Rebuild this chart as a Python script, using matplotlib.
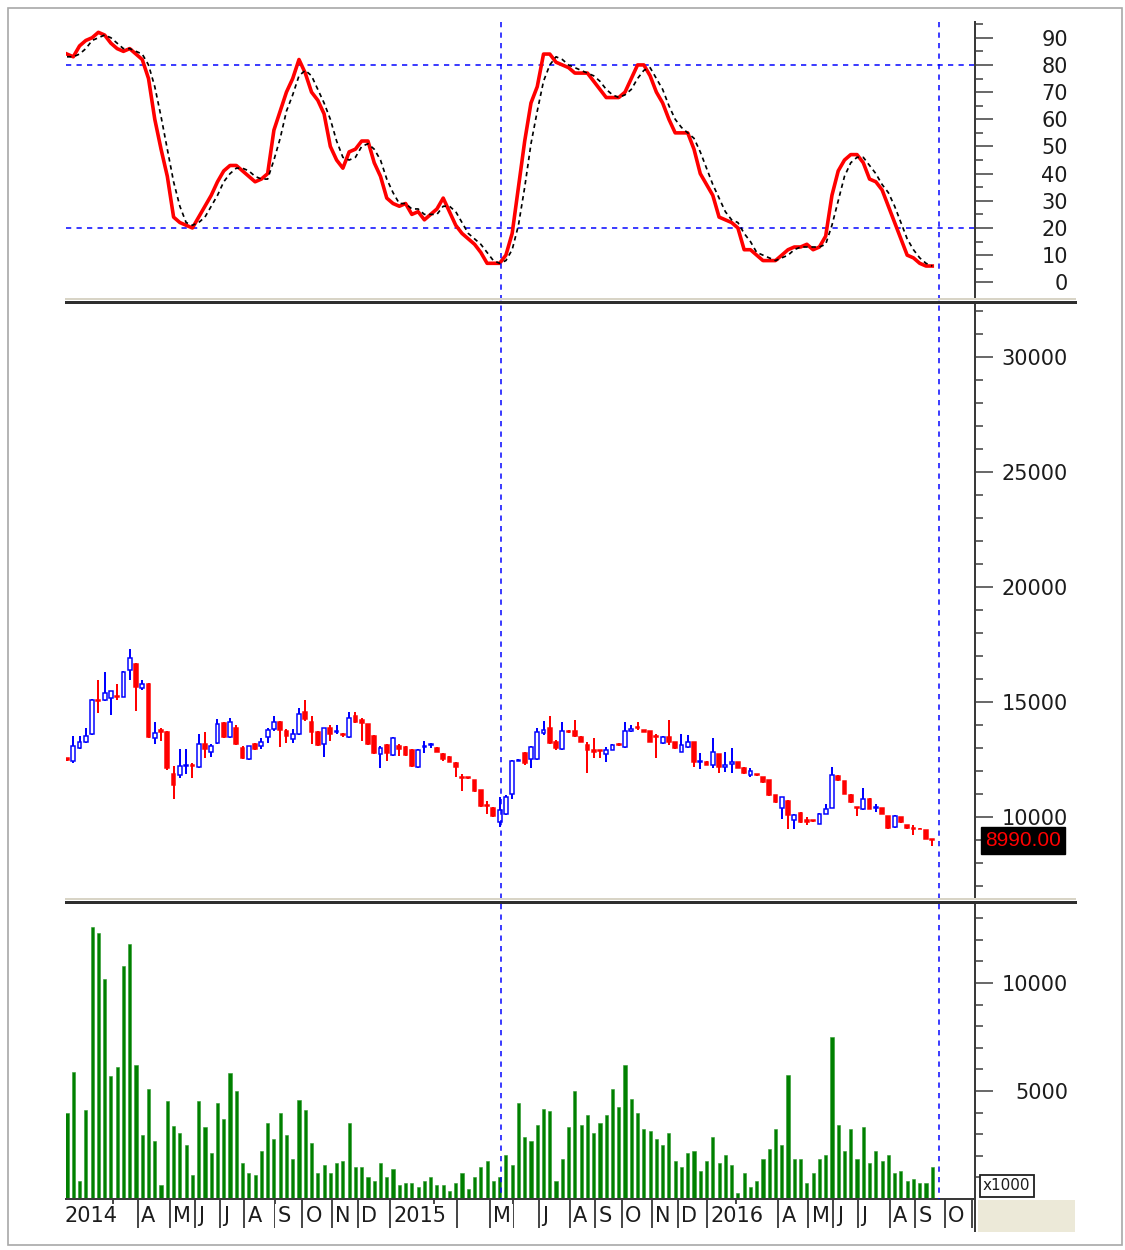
import matplotlib
matplotlib.use("Agg")
import matplotlib.pyplot as plt
from matplotlib.lines import Line2D
from matplotlib.patches import Rectangle
from matplotlib.transforms import blended_transform_factory as blend

# ---------------- data (weekly bars) ----------------
opens = [12550, 12436, 12987, 13262, 13595, 15100, 15073, 15189, 15250, 15218,
         16377, 16667, 15595, 15798, 13421, 13800, 13711, 11856, 11827, 12200,
         12280, 12175, 13160, 12842, 13233, 14102, 13479, 13885, 13015, 12537,
         13160, 13088, 13479, 13812, 14146, 13740, 13378, 13595, 14580, 14146,
         13711, 13160, 13856, 13700, 13620, 13479, 14392, 14204, 14030, 13523,
         12726, 13131, 12697, 13088, 13044, 12900, 12175, 13050, 13120, 13015,
         12755, 12610, 12363, 11740, 11720, 11595, 11161, 10520, 10407, 9780,
         10145, 11020, 12450, 12769, 12521, 12521, 13644, 13863, 13251, 12959,
         13750, 13746, 13498, 13134, 12915, 12900, 12726, 12915, 13180, 13061,
         13746, 13900, 13790, 13746, 13520, 13207, 13498, 13251, 12842, 13061,
         13251, 12376, 12405, 12259, 12726, 12172, 12288, 12376, 12142, 11822,
         11870, 11749, 11603, 10947, 10393, 10684, 9853, 10189, 9853, 9860,
         9707, 10145, 10393, 11792, 11559, 10976, 10420, 10334, 10801, 10370,
         10393, 10043, 9562, 9999, 9635, 9510, 9500, 9416, 9051]
highs = [12560, 13523, 13523, 13856, 15117, 15943, 16319, 15500, 15769, 16350,
         17290, 16700, 15943, 15820, 14146, 13856, 13750, 12218, 12943, 12943,
         12363, 13595, 13711, 13160, 14247, 14130, 14291, 14001, 13088, 13100,
         13200, 13421, 13885, 14392, 14160, 13812, 13812, 14754, 15088, 14392,
         13740, 13885, 14001, 14001, 13650, 14580, 14580, 14291, 14059, 13550,
         13088, 13160, 13479, 13160, 13088, 12943, 12943, 13305, 13233, 13050,
         12798, 12650, 12407, 11856, 11760, 11620, 11190, 10697, 10450, 10874,
         10950, 12478, 12520, 12842, 13100, 13863, 14184, 14373, 13352, 14125,
         13800, 14227, 13520, 13280, 13425, 12915, 13061, 13163, 13200, 14125,
         14009, 14125, 13800, 13760, 13600, 13520, 14227, 13280, 13600, 13571,
         13280, 12769, 12420, 13425, 12740, 12842, 12988, 12400, 12160, 12142,
         11880, 11760, 11620, 10970, 10890, 10728, 10145, 10218, 9999, 9870,
         10160, 10582, 12186, 11810, 11580, 10990, 10437, 11268, 10820, 10582,
         10410, 10060, 10072, 10010, 9650, 9635, 9510, 9430, 9060]
lows = [12450, 12363, 12943, 13233, 13566, 14537, 15044, 14435, 15073, 15200,
        15943, 14609, 15508, 13450, 13160, 13305, 12050, 10770, 11711, 11856,
        11711, 12146, 12581, 12610, 13160, 13450, 13450, 13131, 12508, 12500,
        12900, 12943, 13233, 13740, 13044, 13233, 13233, 13566, 14175, 13160,
        13088, 12610, 13305, 13595, 13500, 13450, 14102, 13305, 13131, 12750,
        12117, 12436, 12653, 12653, 12650, 12175, 12146, 12798, 13015, 12820,
        12436, 12380, 11740, 11132, 11650, 11100, 10450, 10118, 10000, 9562,
        10100, 10800, 12420, 12259, 12142, 12480, 13571, 13163, 12915, 12915,
        13650, 13498, 13250, 11895, 12551, 12551, 12405, 12900, 13100, 13017,
        13717, 13790, 13700, 13250, 12580, 13180, 13134, 12960, 12813, 12988,
        12186, 12084, 12240, 12142, 11895, 11967, 11895, 12120, 11870, 11749,
        11800, 11500, 10920, 10620, 9897, 9489, 9489, 9750, 9664, 9800,
        9690, 10130, 10380, 11580, 11000, 10630, 10043, 10320, 10340, 10218,
        10120, 9500, 9518, 9760, 9500, 9197, 9460, 9030, 8760]
closes = [12500, 13088, 13262, 13523, 15073, 15050, 15406, 15479, 15200, 16319,
          16899, 15653, 15798, 13479, 13668, 13700, 12117, 11393, 12218, 12260,
          12230, 13160, 12943, 13088, 14030, 13479, 14131, 13160, 12581, 13088,
          12943, 13262, 13769, 14146, 13769, 13523, 13595, 14493, 14247, 13711,
          13131, 13856, 13595, 13740, 13580, 14291, 14146, 14102, 13160, 12798,
          12987, 12798, 13421, 12943, 12697, 12218, 12900, 13100, 13160, 12842,
          12508, 12407, 12175, 11700, 11680, 11132, 10480, 10480, 10045, 10291,
          10874, 12434, 12480, 12332, 13061, 13717, 13790, 13207, 12988, 13746,
          13700, 13542, 13280, 12915, 12842, 12860, 12915, 13134, 13140, 13746,
          13834, 13860, 13717, 13280, 13480, 13498, 13280, 12988, 13134, 13251,
          12405, 12434, 12259, 12813, 12186, 12259, 12376, 12142, 11895, 11997,
          11830, 11530, 10947, 10655, 10874, 10072, 10072, 9780, 9780, 9820,
          10145, 10364, 11822, 11603, 11020, 10655, 10393, 10801, 10364, 10420,
          10145, 9518, 10043, 9780, 9518, 9480, 9470, 9051, 8990]
# volume in the axis unit (x1000)
volume = [4000, 5900, 850, 4100, 12600, 12300, 10200, 5700, 6100, 10800,
          11800, 6200, 2960, 5100, 2700, 650, 4550, 3400, 3070, 2500,
          1100, 4550, 3350, 2140, 4460, 3700, 5850, 5000, 1670, 1200,
          1100, 2240, 3500, 2800, 4000, 2960, 1850, 4600, 4100, 2600,
          1200, 1570, 1200, 1670, 1760, 3500, 1480, 1480, 1000, 830,
          1670, 1000, 1390, 650, 740, 740, 560, 830, 1000, 650,
          650, 370, 740, 1200, 460, 1000, 1480, 1760, 830, 1000,
          2040, 1570, 4460, 2890, 2700, 3430, 4170, 4070, 830, 1850,
          3350, 5000, 3430, 3890, 3070, 3530, 3890, 5090, 4260, 6200,
          4630, 3980, 3240, 3150, 2780, 2500, 3060, 1760, 1480, 2130,
          2220, 1300, 1760, 2870, 1670, 2040, 1570, 280, 1200, 560,
          830, 1850, 2310, 3240, 2500, 5740, 1850, 1850, 740, 1200,
          1850, 2040, 7500, 3430, 2220, 3240, 1850, 3330, 1670, 2220,
          1760, 2040, 1200, 1300, 830, 930, 740, 740, 1480]
stoch_k = [84, 83, 87, 89, 90, 92, 91, 88, 86, 85, 86, 84, 82, 75, 60, 49, 39, 24, 22, 21,
           20, 24, 28, 32, 37, 41, 43, 43, 41, 39, 37, 38, 40, 56, 63, 70, 75, 82, 77, 70,
           67, 62, 50, 45, 42, 48, 49, 52, 52, 44, 39, 31, 29, 28, 29, 25, 26, 23, 25, 27,
           31, 26, 21, 18, 16, 14, 11, 7, 7, 7, 10, 18, 35, 52, 66, 72, 84, 84, 81, 80,
           79, 77, 77, 77, 74, 71, 68, 68, 68, 70, 75, 80, 80, 76, 70, 66, 60, 55, 55, 55,
           49, 40, 36, 32, 24, 23, 22, 20, 12, 12, 10, 8, 8, 8, 10, 12, 13, 13, 14, 12,
           13, 17, 32, 41, 45, 47, 47, 44, 38, 37, 34, 28, 22, 16, 10, 9, 7, 6, 6]
stoch_d = [83, 83, 84, 86, 89, 90, 91, 90, 88, 86, 86, 85, 84, 80, 72, 61, 49, 37, 28, 22,
           21, 22, 24, 28, 32, 37, 40, 42, 42, 41, 39, 38, 38, 45, 53, 63, 69, 76, 78, 76,
           71, 66, 60, 52, 46, 45, 46, 50, 51, 49, 45, 38, 33, 29, 29, 27, 27, 25, 25, 25,
           28, 28, 26, 22, 18, 16, 14, 11, 8, 7, 8, 12, 21, 35, 51, 63, 74, 80, 83, 82,
           80, 79, 78, 77, 76, 74, 71, 69, 68, 69, 71, 75, 78, 79, 75, 71, 65, 60, 57, 55,
           53, 48, 42, 36, 31, 26, 23, 22, 18, 15, 11, 10, 9, 8, 9, 10, 12, 13, 13, 13,
           13, 14, 21, 30, 39, 44, 46, 46, 43, 40, 36, 33, 28, 22, 16, 12, 9, 7, 6]
stoch_levels = [20, 80]
marker_bars = [69.2, 139.1]
month_pos = [-1.0, 7.3, 11.3, 16.4, 20.4, 24.4, 28.3, 33.1, 37.5, 42.2, 46.4,
             51.5, 58.5, 62.2, 67.4, 71.2, 75.3, 80.2, 84.2, 88.5, 93.3, 97.4,
             102.1, 106.7, 113.4, 118.2, 122.2, 126.1, 131.2, 135.2, 140.0, 144.3]
month_lab = ['2014', '', 'A', 'M', 'J', 'J', 'A', 'S', 'O', 'N', 'D',
             '2015', '', '', 'M', '', 'J', 'A', 'S', 'O', 'N', 'D',
             '2016', '', 'A', 'M', 'J', 'J', 'A', 'S', 'O', '']
stoch_ticks = [0, 10, 20, 30, 40, 50, 60, 70, 80, 90]
price_ticks = [10000, 15000, 20000, 25000, 30000]
vol_ticks = [5000, 10000]
last_label = '8990.00'

# ---------------- layout ----------------
W, H = 1125, 1250
fig = plt.figure(figsize=(W / 100, H / 100), dpi=100)
fig.patch.set_facecolor('white')
PT = 0.72  # points per pixel


def fx(px):
    return px / W


def fy(py):
    return 1 - py / H


XL, XR = 66, 975
SP = 6.27  # pixels per bar
X0 = 67


def add_ax(top, bottom):
    return fig.add_axes([fx(XL), fy(bottom), (XR - XL) / W, (bottom - top) / H])


ax1 = add_ax(22, 297)
ax2 = add_ax(304, 897)
ax3 = add_ax(903, 1199)
axx = add_ax(1199, 1231)

xlim = ((XL - X0) / SP, (XR - X0) / SP)
idx = list(range(len(closes)))
vidx = list(range(len(volume)))
kidx = list(range(len(stoch_k)))

AXC = '#3a3a3a'
TXC = '#1c1c1c'
for ax in (ax1, ax2, ax3, axx):
    ax.set_xlim(*xlim)
    ax.set_facecolor('white')
    for s in ('left', 'top', 'bottom'):
        ax.spines[s].set_visible(False)
    ax.spines['right'].set_color(AXC)
    ax.spines['right'].set_linewidth(2 * PT)
    ax.tick_params(axis='x', which='both', bottom=False, labelbottom=False)


def style_y(ax, major, minor, lo, hi):
    ax.set_ylim(lo, hi)
    ax.yaxis.tick_right()
    ax.set_yticks(major)
    ax.set_yticks(minor, minor=True)
    ax.tick_params(axis='y', which='major', direction='out', length=18 * PT,
                   width=1.5 * PT, color=AXC, labelsize=15, labelcolor=TXC,
                   pad=54, left=False, right=True)
    ax.tick_params(axis='y', which='minor', direction='out', length=8 * PT,
                   width=1.5 * PT, color=AXC, left=False, right=True)
    for t in ax.get_yticklabels():
        t.set_horizontalalignment('right')


# stochastic panel
style_y(ax1, stoch_ticks, [v + 5 for v in stoch_ticks], -5.4, 95.8)
for lv in stoch_levels:
    ax1.axhline(lv, color='#0000FF', lw=1.5 * PT, ls=(0, (3.5, 3.5)), zorder=1)
ax1.plot(kidx, stoch_k, color='#FF0000', lw=3.6 * PT, zorder=3,
         solid_joinstyle='round')
ax1.plot(kidx, stoch_d, color='black', lw=1.7 * PT, ls=(0, (2.6, 2.2)), zorder=4)

# price panel
style_y(ax2, price_ticks, list(range(7000, 33000, 1000)), 6522, 32304)
colors = ['#0000FF' if c > o else '#FF0000' for o, c in zip(opens, closes)]
faces = ['white' if c > o else '#FF0000' for o, c in zip(opens, closes)]
bottoms = [min(o, c) for o, c in zip(opens, closes)]
heights = [abs(c - o) for o, c in zip(opens, closes)]
ax2.vlines(idx, lows, highs, colors=colors, lw=2 * PT, zorder=2)
ax2.bar(idx, heights, bottom=bottoms, width=0.6, color=faces,
        edgecolor=colors, linewidth=1.5 * PT, zorder=3)
ax2.text(1 + 10 / (XR - XL), closes[-1], last_label,
         transform=blend(ax2.transAxes, ax2.transData), ha='left', va='center',
         color='#FF0000', fontsize=15, family='Liberation Sans', zorder=20,
         clip_on=False,
         bbox=dict(boxstyle='square,pad=0.2', facecolor='black', edgecolor='black'))

# volume panel
style_y(ax3, vol_ticks, list(range(1000, 14000, 1000)), 0, 13704)
ax3.bar(vidx, volume, width=0.5, color='#008000', edgecolor='#2e9a2e',
        linewidth=0.4, zorder=2)

# time strip
axx.set_ylim(0, 1)
axx.set_yticks([])
axx.tick_params(axis='y', which='both', right=False, labelright=False)
axx.spines['top'].set_visible(True)
axx.spines['top'].set_color(AXC)
axx.spines['top'].set_linewidth(2 * PT)
axx.vlines(month_pos, 0.1, 1, colors=TXC, lw=1.6 * PT, zorder=1)
for p, lab in zip(month_pos, month_lab):
    if lab:
        axx.text(p + 0.55, 0.46, lab, ha='left', va='center', fontsize=15,
                 color=TXC, zorder=3, clip_on=True,
                 bbox=dict(boxstyle='square,pad=0.12', facecolor='white',
                           edgecolor='none'))

# vertical marker lines through all panels
vt = blend(ax1.transData, fig.transFigure)
for m in marker_bars:
    fig.add_artist(Line2D([m, m], [fy(22), fy(1199)], transform=vt,
                          color='#0000FF', lw=1.5 * PT, ls=(0, (3.5, 3.5)),
                          zorder=5))

# panel separators
for yl, yd in ((298.5, 301.8), (898.5, 901.5)):
    fig.add_artist(Line2D([fx(XL), fx(1075)], [fy(yl)] * 2, color='#d8d4c6',
                          lw=2 * PT, zorder=6))
    fig.add_artist(Line2D([fx(XL), fx(1075)], [fy(yd)] * 2, color='#2e2e2e',
                          lw=3 * PT, zorder=6))

# x1000 box and beige corner
fig.add_artist(Rectangle((fx(978), fy(1232)), (1075 - 978) / W, 32 / H,
                         transform=fig.transFigure, facecolor='#ece9d8',
                         edgecolor='none', zorder=2))
fig.text(fx(983), fy(1186), 'x1000', ha='left', va='center', fontsize=11,
         color=TXC, zorder=7,
         bbox=dict(boxstyle='square,pad=0.2', facecolor='white',
                   edgecolor='#202020', linewidth=1.3))

# outer frame
fig.add_artist(Rectangle((fx(8), fy(1245)), (1122 - 8) / W, (1245 - 8) / H,
                         transform=fig.transFigure, facecolor='none',
                         edgecolor='#a8a8a8', lw=1.2, zorder=0))

fig.savefig('out.png', dpi=100, facecolor='white')
